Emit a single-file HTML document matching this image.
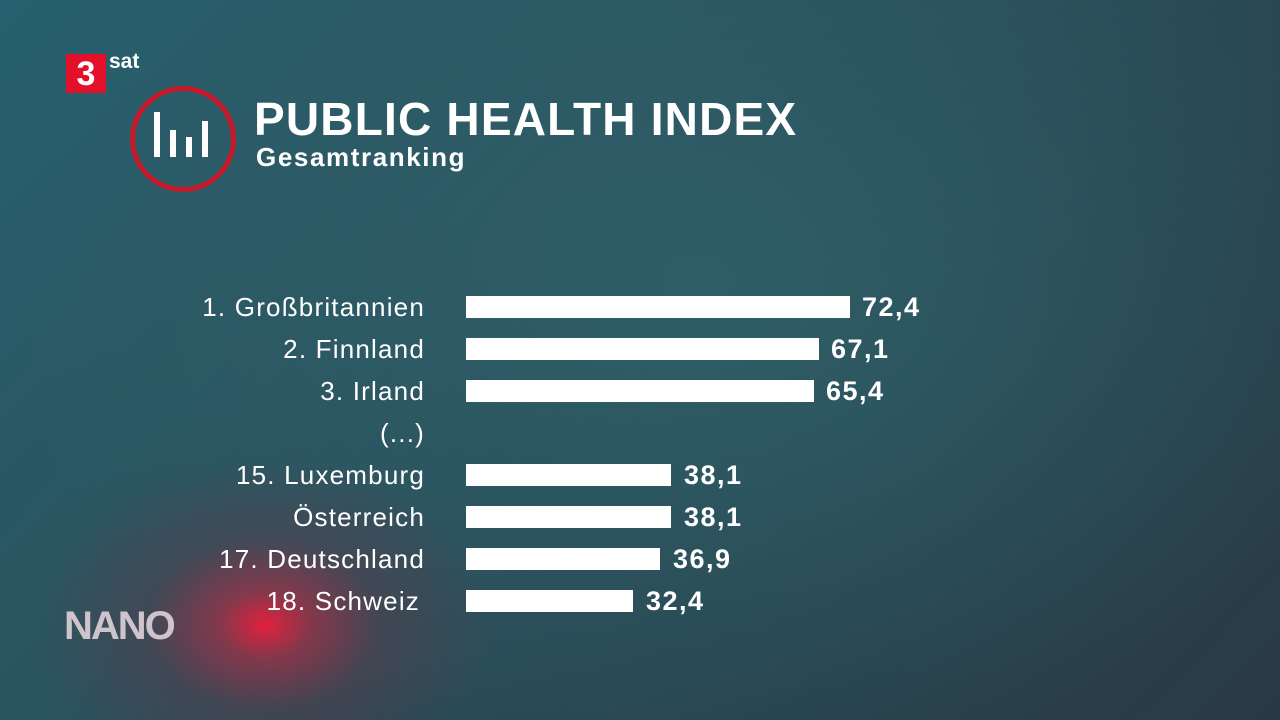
<!DOCTYPE html>
<html style="width:1280px;height:720px;overflow:hidden;margin:0"><head><meta charset="utf-8"><style>
body{margin:0;width:1280px;height:720px;overflow:hidden;position:relative;font-family:"Liberation Sans",sans-serif;color:#fff;
background:radial-gradient(ellipse 700px 500px at 700px 280px,#2f5e68 0%,rgba(47,94,104,0) 100%),linear-gradient(135deg,#27606e 0%,#2a5560 35%,#28424c 75%,#2a3a44 100%);}
.glow{position:absolute;left:0;top:420px;width:560px;height:300px;
background:radial-gradient(ellipse 230px 170px at 265px 205px,rgba(235,30,60,.95) 0%,rgba(190,40,65,.6) 20%,rgba(120,45,65,.3) 50%,rgba(60,50,60,0) 100%);}
.lab{position:absolute;right:855px;font-size:26px;font-weight:300;line-height:30px;white-space:nowrap;letter-spacing:1.2px;}
.bar{position:absolute;left:466px;height:22px;background:#fff;}
.val{position:absolute;font-size:27px;font-weight:bold;line-height:30px;letter-spacing:1.5px;}
</style></head><body>
<div class="glow"></div>
<div style="position:absolute;left:66px;top:54px;width:40px;height:39px;background:#e3102a;font-weight:bold;font-size:34px;line-height:40px;text-align:center">3</div>
<div style="position:absolute;left:109px;top:50px;font-size:21px;font-weight:bold;">sat</div>
<div style="position:absolute;left:130px;top:86px;width:96px;height:96px;border:5px solid #c8192b;border-radius:50%;"></div>
<div style="position:absolute;left:154px;top:112px;width:6px;height:45px;background:#fff"></div>
<div style="position:absolute;left:170px;top:130px;width:6px;height:27px;background:#fff"></div>
<div style="position:absolute;left:186px;top:137px;width:6px;height:20px;background:#fff"></div>
<div style="position:absolute;left:202px;top:121px;width:6px;height:36px;background:#fff"></div>
<div style="position:absolute;left:254px;top:92px;font-size:46px;font-weight:bold;letter-spacing:1.2px;">PUBLIC HEALTH INDEX</div>
<div style="position:absolute;left:256px;top:142px;font-size:26px;font-weight:bold;letter-spacing:1.6px;">Gesamtranking</div>
<div style="position:absolute;left:64px;top:604px;font-size:40px;font-weight:bold;color:#d0c4cc;letter-spacing:-2px;">NANO</div>

<div class="lab" style="top:292px">1. Großbritannien</div><div class="bar" style="top:296px;width:384px"></div><div class="val" style="left:862px;top:292px">72,4</div>
<div class="lab" style="top:334px">2. Finnland</div><div class="bar" style="top:338px;width:353px"></div><div class="val" style="left:831px;top:334px">67,1</div>
<div class="lab" style="top:376px">3. Irland</div><div class="bar" style="top:380px;width:348px"></div><div class="val" style="left:826px;top:376px">65,4</div>
<div class="lab" style="top:418px">(...)</div>
<div class="lab" style="top:460px">15. Luxemburg</div><div class="bar" style="top:464px;width:205px"></div><div class="val" style="left:684px;top:460px">38,1</div>
<div class="lab" style="top:502px">Österreich</div><div class="bar" style="top:506px;width:205px"></div><div class="val" style="left:684px;top:502px">38,1</div>
<div class="lab" style="top:544px">17. Deutschland</div><div class="bar" style="top:548px;width:194px"></div><div class="val" style="left:673px;top:544px">36,9</div>
<div class="lab" style="top:586px;right:860px">18. Schweiz</div><div class="bar" style="top:590px;width:167px"></div><div class="val" style="left:646px;top:586px">32,4</div>
</body></html>
